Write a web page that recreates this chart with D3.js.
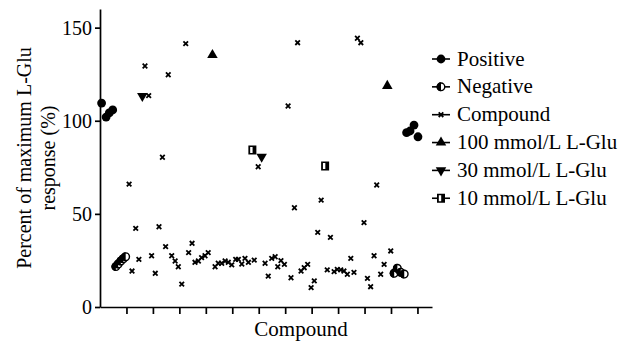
<!DOCTYPE html>
<html>
<head>
<meta charset="utf-8">
<script src="https://cdn.jsdelivr.net/npm/d3@7"></script>
<style>
	body { margin: 0; background: #fff; }
</style>
</head>
<body>
<div class="chart"></div>
<script>
// values, [compound position, % of max L-Glu response]
const positive = [[0.06,109.5],[0.23,102],[0.35,104.2],[0.48,105.8],[11.59,93.6],[11.72,94.5],[11.87,97.7],[12.02,91.4]]
const negative = [[0.60,21.7],[0.69,23.1],[0.79,24.7],[0.88,25.9],[0.97,27.0],[11.12,18.1],[11.24,20.8],[11.37,18.6],[11.50,17.7]]
const compound = [
	[1.10,66.0],[1.21,19.3],[1.35,42.2],[1.47,25.6],[1.70,129.4],[1.84,113.5],[1.95,27.5],[2.09,18.1],
	[2.23,43.1],[2.36,80.4],[2.48,32.4],[2.58,124.7],[2.71,27.5],[2.84,24.7],[2.96,21.6],[3.09,12.3],
	[3.24,141.4],[3.35,29.2],[3.48,34.2],[3.59,24.0],[3.72,24.7],[3.84,26.5],[3.97,27.5],[4.09,29.2],
	[4.35,21.6],[4.47,23.5],[4.60,23.5],[4.73,24.7],[4.85,24.0],[4.98,22.6],[5.13,25.6],[5.23,25.6],
	[5.36,23.1],[5.48,26.1],[5.61,24.0],[5.83,25.2],[5.98,75.3],[6.24,23.5],[6.36,16.6],[6.49,26.1],
	[6.62,27.0],[6.72,21.6],[6.84,24.9],[6.97,22.9],[7.11,107.9],[7.22,15.7],[7.35,53.3],[7.47,141.9],
	[7.60,19.3],[7.72,21.1],[7.85,22.9],[7.98,10.4],[8.10,14.0],[8.23,40.1],[8.36,57.4],[8.59,19.9],
	[8.71,37.4],[8.85,19.0],[8.97,20.2],[9.10,19.9],[9.22,19.3],[9.35,17.6],[9.48,26.1],[9.60,18.6],
	[9.73,144.3],[9.86,141.9],[9.98,45.3],[10.11,15.4],[10.23,10.9],[10.36,27.5],[10.46,65.5],[10.61,17.6],
	[10.74,22.9],[10.99,30.1]
]
const glu100 = [[4.25,135.3],[10.86,118.7]]
const glu30 = [[1.60,113.3],[6.11,80.7]]
const glu10 = [[5.76,84.3],[8.51,75.7]]

const yTicks = [0, 50, 100, 150]
const xTicks = d3.range(1, 13)
const legendLabels = ['Positive', 'Negative', 'Compound', '100 mmol/L L-Glu', '30 mmol/L L-Glu', '10 mmol/L L-Glu']
const legendKinds = ['positive', 'negative', 'compound', 'up', 'down', 'square']

const width = 632
const height = 344
const serif = "'Liberation Serif', 'Times New Roman', Times, serif"

const svg = d3.select('.chart')
	.append('svg')
	.attr('width', width)
	.attr('height', height)
	.style('font-family', serif)

const x = d3.scaleLinear().domain([0, 12.55]).range([100, 432])
const y = d3.scaleLinear().domain([0, 160]).range([307, 9])

// axes
const yAxis = svg.append('g')
	.attr('transform', 'translate(100,0)')
	.call(d3.axisLeft(y).tickValues(yTicks).tickSize(5).tickSizeOuter(0).tickPadding(3))
yAxis.attr('font-family', null).attr('font-size', null)
yAxis.selectAll('path, line').attr('stroke', '#000').attr('stroke-width', 1.7)
yAxis.selectAll('text')
	.style('font-family', serif)
	.style('font-size', '20px')
	.attr('fill', '#000')

const xAxis = svg.append('g')
	.attr('transform', 'translate(0,307)')
	.call(d3.axisBottom(x).tickValues(xTicks).tickFormat('').tickSize(7).tickSizeOuter(0))
xAxis.selectAll('path, line').attr('stroke', '#000').attr('stroke-width', 1.7)

// axis titles
const yTitle = svg.append('text')
	.attr('transform', 'translate(31,158) rotate(-90)')
	.attr('text-anchor', 'middle')
	.style('font-family', serif)
	.style('font-size', '20px')
yTitle.append('tspan').attr('x', 0).attr('y', 0).text('Percent of maximum L-Glu')
yTitle.append('tspan').attr('x', 0).attr('y', 24).text('response (%)')

svg.append('text')
	.attr('x', 301)
	.attr('y', 336)
	.attr('text-anchor', 'middle')
	.style('font-family', serif)
	.style('font-size', '21px')
	.text('Compound')

// marker drawing
const times = s => `M${-s},${-s}L${s},${s}M${-s},${s}L${s},${-s}`
function marker(g, kind) {
	if (kind === 'positive') {
		g.append('circle').attr('r', 4.4).attr('fill', '#000')
	} else if (kind === 'negative') {
		g.append('circle').attr('r', 3.8).attr('fill', '#fff').attr('stroke', '#000').attr('stroke-width', 1.4)
		g.append('path').attr('d', 'M0,-4.5A4.5,4.5 0 0 0 0,4.5Z').attr('fill', '#000')
	} else if (kind === 'compound') {
		g.append('path').attr('d', times(2.3)).attr('stroke', '#000').attr('stroke-width', 1.8)
	} else if (kind === 'up') {
		g.append('path').attr('d', d3.symbol(d3.symbolTriangle, 48)()).attr('fill', '#000')
	} else if (kind === 'down') {
		g.append('path').attr('d', d3.symbol(d3.symbolTriangle, 48)()).attr('transform', 'rotate(180)').attr('fill', '#000')
	} else if (kind === 'square') {
		g.append('rect').attr('x', -4).attr('y', -4.5).attr('width', 8).attr('height', 9).attr('fill', '#000')
		g.append('rect').attr('x', -2.2).attr('y', -3).attr('width', 2.4).attr('height', 6).attr('fill', '#fff')
	}
}

function drawSeries(data, kind) {
	svg.append('g').selectAll('g')
		.data(data)
		.enter()
		.append('g')
		.attr('transform', d => `translate(${x(d[0])},${y(d[1])})`)
		.each(function(){ marker(d3.select(this), kind) })
}

drawSeries(compound, 'compound')
drawSeries(negative, 'negative')
drawSeries(positive, 'positive')
drawSeries(glu100, 'up')
drawSeries(glu30, 'down')
drawSeries(glu10, 'square')

// legend
const legend = svg.append('g').selectAll('g')
	.data(legendLabels)
	.enter()
	.append('g')
	.attr('transform', (d,i) => `translate(432,${59 + i * 27.85})`)

legend.append('line')
	.attr('x1', 0).attr('x2', 18)
	.attr('stroke', '#000').attr('stroke-width', 1.6)
legend.append('g')
	.attr('transform', 'translate(9,0)')
	.each(function(d,i){ marker(d3.select(this), legendKinds[i]) })
legend.append('text')
	.attr('x', 25)
	.attr('y', 6.5)
	.style('font-family', serif)
	.style('font-size', '21px')
	.text(d => d)
</script>
</body>
</html>
